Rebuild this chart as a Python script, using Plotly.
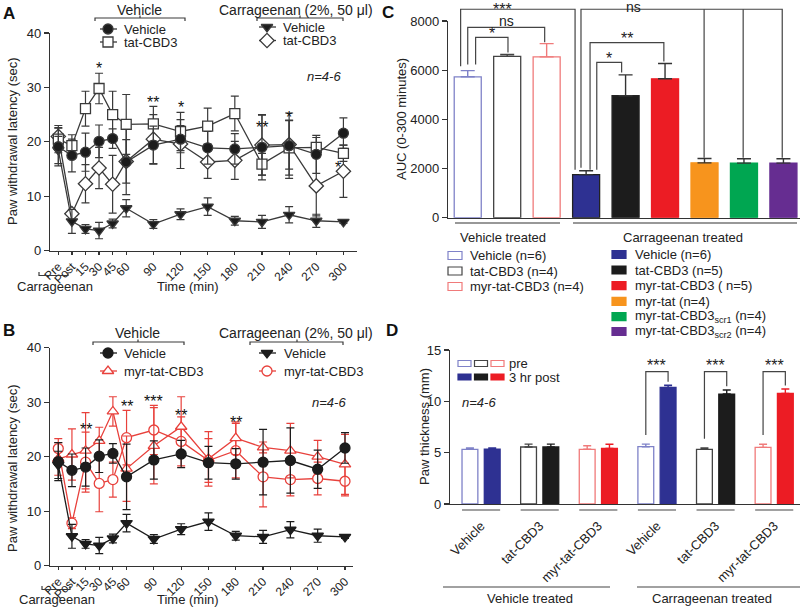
import plotly.graph_objects as go

W, H = 800, 615
FONT = "Arial, Liberation Sans, Helvetica, sans-serif"

# ---------------- data ----------------
time_labels = ["Pre", "Post", "15", "30", "45", "60", "90", "120", "150", "180", "210", "240", "270", "300"]
time_min = [-15, 0, 15, 30, 45, 60, 90, 120, 150, 180, 210, 240, 270, 300]

# vehicle-injected paw, vehicle peptide (filled circle)
veh_vehicle = [19.1, 17.5, 18.1, 20.1, 20.6, 16.3, 19.4, 20.5, 18.9, 18.7, 19.0, 19.3, 17.7, 21.6]
veh_vehicle_err = [3.5, 3.0, 3.5, 3.0, 1.8, 6.0, 3.5, 2.5, 3.0, 2.8, 6.0, 6.0, 3.5, 2.8]
# vehicle-injected paw, tat-CBD3 (open square)
veh_tat = [20.5, 19.3, 26.1, 29.8, 25.0, 23.2, 23.3, 21.9, 22.9, 25.2, 15.9, 18.9, 19.0, 17.9]
veh_tat_err = [2.5, 2.0, 3.2, 2.8, 4.3, 5.5, 3.2, 3.5, 3.3, 3.2, 2.0, 5.0, 1.8, 1.5]
# carrageenan, vehicle (filled down triangle)
car_vehicle = [18.5, 5.4, 4.0, 3.7, 5.0, 7.8, 4.9, 6.7, 8.1, 5.5, 5.3, 6.6, 5.5, 5.3]
car_vehicle_err = [2.5, 2.2, 0.8, 1.5, 0.8, 1.6, 0.8, 1.0, 1.6, 0.8, 1.2, 1.5, 1.2, 0.3]
# carrageenan, tat-CBD3 (open diamond)
car_tat = [21.0, 6.8, 12.3, 15.2, 12.2, 16.4, 20.5, 19.6, 16.3, 16.6, 19.4, 19.5, 11.9, 14.6]
car_tat_err = [1.5, 0.5, 3.5, 3.8, 5.3, 4.0, 4.5, 4.5, 3.0, 3.5, 5.5, 4.5, 5.5, 4.8]
# panel B: myr-tat-CBD3
veh_myr = [19.6, 20.4, 21.1, 22.9, 28.3, 17.8, 22.0, 25.5, 19.6, 23.4, 21.7, 21.1, 20.0, 18.6]
veh_myr_err = [3.0, 4.7, 7.0, 2.5, 2.7, 6.0, 7.0, 5.5, 5.0, 3.0, 1.0, 5.0, 3.0, 5.5]
car_myr = [21.5, 7.8, 19.0, 15.1, 15.8, 23.5, 24.9, 22.8, 19.3, 21.1, 16.3, 15.8, 16.0, 15.5]
car_myr_err = [1.8, 1.0, 5.5, 5.2, 3.2, 5.0, 4.5, 4.5, 4.0, 5.0, 5.5, 3.0, 3.0, 2.7]

sig_A = [(30, 34.0, "*"), (90, 27.8, "**"), (120, 26.8, "*"), (210, 23.1, "**"), (240, 25.1, "*"), (294, 15.8, "*")]
sig_B = [(15, 25.5, "**"), (60, 29.8, "**"), (90, 30.7, "***"), (120, 28.1, "**"), (180, 26.9, "**")]

# panel C: AUC
auc_names_vehicle = ["Vehicle (n=6)", "tat-CBD3 (n=4)", "myr-tat-CBD3 (n=4)"]
auc_vehicle = [5730, 6560, 6540]
auc_vehicle_err = [250, 80, 540]
auc_names_carr = ["Vehicle (n=6)", "tat-CBD3 (n=5)", "myr-tat-CBD3 ( n=5)", "myr-tat (n=4)",
                  "myr-tat-CBD3<sub>scr1</sub> (n=4)", "myr-tat-CBD3<sub>scr2</sub> (n=4)"]
auc_carr = [1750, 4960, 5650, 2230, 2220, 2220]
auc_carr_err = [160, 850, 620, 175, 180, 180]

# panel D: paw thickness
thick_labels = ["Vehicle", "tat-CBD3", "myr-tat-CBD3", "Vehicle", "tat-CBD3", "myr-tat-CBD3"]
thick_pre = [5.33, 5.55, 5.33, 5.58, 5.33, 5.52]
thick_pre_err = [0.12, 0.28, 0.35, 0.25, 0.12, 0.3]
thick_post = [5.35, 5.55, 5.42, 11.36, 10.71, 10.78]
thick_post_err = [0.1, 0.28, 0.4, 0.2, 0.4, 0.42]

# ---------------- colours ----------------
GREY = "#3a3a3a"
BLACK = "#1c1c1c"
RED = "#e8413c"
fill_cols = ["#2e3192", "#1c1c1c", "#ec1c24", "#f7941d", "#00a651", "#662d91"]
open_cols = ["#7f82c8", "#444444", "#f07a7a"]

# ---------------- geometry ----------------
geom = {
    "A": dict(l=50, r=357, t=33, b=250.7, xr=[-24.2, 315], yr=[0, 40]),
    "B": dict(l=50, r=353, t=347.7, b=565.7, xr=[-24.1, 308.8], yr=[0, 40]),
    "C": dict(l=448, r=800, t=21, b=217.7, xr=[-0.5, 8.42], yr=[0, 8000]),
    "D": dict(l=450, r=800, t=350, b=504, xr=[-0.53, 5.44], yr=[0, 15]),
}


def xdom(k):
    g = geom[k]
    return [g["l"] / W, g["r"] / W]


def ydom(k):
    g = geom[k]
    return [1 - g["b"] / H, 1 - g["t"] / H]


def to_px(k, xv, yv):
    g = geom[k]
    x0, x1 = g["xr"]
    y0, y1 = g["yr"]
    px = g["l"] + (xv - x0) / (x1 - x0) * (g["r"] - g["l"])
    py = g["b"] - (yv - y0) / (y1 - y0) * (g["b"] - g["t"])
    return px, py


shapes = []
annotations = []


def seg(x0, y0, x1, y1, color="#333", w=1.2):
    shapes.append(dict(type="line", xref="x5", yref="y5", x0=x0, y0=y0, x1=x1, y1=y1,
                       line=dict(color=color, width=w)))


def pth(d, color="#333", w=1.2):
    shapes.append(dict(type="path", xref="x5", yref="y5", path=d, line=dict(color=color, width=w)))


def rect(x0, y0, x1, y1, line_col, fill):
    shapes.append(dict(type="rect", xref="x5", yref="y5", x0=x0, y0=y0, x1=x1, y1=y1,
                       line=dict(color=line_col, width=1.2), fillcolor=fill))


def txt(x, y, s, size=13, xanchor="center", yanchor="middle", color="#222", angle=0, bold=False):
    if bold:
        s = "<b>" + s + "</b>"
    annotations.append(dict(xref="x5", yref="y5", x=x, y=y, text=s, showarrow=False,
                            xanchor=xanchor, yanchor=yanchor, textangle=angle,
                            font=dict(size=size, color=color, family=FONT)))


fig = go.Figure()


def series(x, y, err, symbol, color, fill, xa, ya, size=10):
    return go.Scatter(x=x, y=y, mode="lines+markers", xaxis=xa, yaxis=ya,
                      error_y=dict(type="data", array=err, color=color, thickness=1.2, width=4),
                      line=dict(color=color, width=1.3),
                      marker=dict(symbol=symbol, size=size, color=fill, line=dict(color=color, width=1.3)),
                      hoverinfo="skip", showlegend=False)


# Panel A
fig.add_trace(series(time_min, car_tat, car_tat_err, "diamond", GREY, "white", "x", "y", 11))
fig.add_trace(series(time_min, veh_tat, veh_tat_err, "square", GREY, "white", "x", "y", 10))
fig.add_trace(series(time_min, car_vehicle, car_vehicle_err, "triangle-down", GREY, BLACK, "x", "y", 10))
fig.add_trace(series(time_min, veh_vehicle, veh_vehicle_err, "circle", GREY, BLACK, "x", "y", 10))
# Panel B
fig.add_trace(series(time_min, car_myr, car_myr_err, "circle", RED, "white", "x2", "y2", 10))
fig.add_trace(series(time_min, veh_myr, veh_myr_err, "triangle-up", RED, "white", "x2", "y2", 10))
fig.add_trace(series(time_min, car_vehicle, car_vehicle_err, "triangle-down", BLACK, BLACK, "x2", "y2", 10))
fig.add_trace(series(time_min, veh_vehicle, veh_vehicle_err, "circle", BLACK, BLACK, "x2", "y2", 10))

# Panel C bars
auc_vals = auc_vehicle + auc_carr
auc_errs = auc_vehicle_err + auc_carr_err
n_veh = len(auc_vehicle)
for i, (v, e) in enumerate(zip(auc_vals, auc_errs)):
    if i < n_veh:
        fc, lc = "white", open_cols[i]
    else:
        fc, lc = fill_cols[i - n_veh], "#222" if i - n_veh in (0, 1) else fill_cols[i - n_veh]
    fig.add_trace(go.Bar(x=[i], y=[v], width=0.685, xaxis="x3", yaxis="y3",
                         marker=dict(color=fc, line=dict(color=lc, width=1.3)),
                         error_y=dict(type="data", symmetric=False, array=[e], arrayminus=[0],
                                      color=lc if i < n_veh else "#333", thickness=1.4, width=7),
                         hoverinfo="skip", showlegend=False))

# Panel D bars
BW, OFF = 0.27, 0.19
for i in range(len(thick_labels)):
    c = i % 3
    fig.add_trace(go.Bar(x=[i], y=[thick_pre[i]], width=BW, offset=-OFF - BW / 2, xaxis="x4", yaxis="y4",
                         marker=dict(color="white", line=dict(color=open_cols[c], width=1.3)),
                         error_y=dict(type="data", symmetric=False, array=[thick_pre_err[i]], arrayminus=[0],
                                      color=open_cols[c], thickness=1.4, width=4),
                         hoverinfo="skip", showlegend=False))
    fig.add_trace(go.Bar(x=[i], y=[thick_post[i]], width=BW, offset=OFF - BW / 2, xaxis="x4", yaxis="y4",
                         marker=dict(color=fill_cols[c], line=dict(color=fill_cols[c], width=1.3)),
                         error_y=dict(type="data", symmetric=False, array=[thick_post_err[i]], arrayminus=[0],
                                      color=fill_cols[c], thickness=1.4, width=4),
                         hoverinfo="skip", showlegend=False))


# ---------------- legend glyphs (overlay pixel axis) ----------------
def glyph(x, y, symbol, color, fill, size=10):
    fig.add_trace(go.Scatter(x=[x - 8, x, x + 9], y=[y, y, y], mode="lines+markers", xaxis="x5", yaxis="y5",
                             line=dict(color=color, width=1.3),
                             marker=dict(symbol=symbol, size=size, color=fill, opacity=[0, 1, 0],
                                         line=dict(color=color, width=1.3)),
                             hoverinfo="skip", showlegend=False))


# Panel A legend
txt(139, 10, "Vehicle", 14)
pth("M95,21 L95,18 L185,18 L185,21 M140,18 L140,15.5", GREY)
txt(296, 10, "Carrageenan (2%, 50 μl)", 14)
pth("M257,21 L257,18 L343,18 L343,21 M300,18 L300,15.5", GREY)
glyph(108, 29, "circle", GREY, BLACK)
txt(122, 29, "Vehicle", 13, "left")
glyph(108, 42, "square", GREY, "white")
txt(122, 42, "tat-CBD3", 13, "left")
glyph(267, 27, "triangle-down", GREY, BLACK)
txt(281, 27, "Vehicle", 13, "left")
glyph(267, 40.5, "diamond", GREY, "white", 11)
txt(281, 40.5, "tat-CBD3", 13, "left")
txt(343, 76, "<i>n=4-6</i>", 13, "right")
txt(12, 141, "Paw withdrawal latency (sec)", 13, angle=-90)
txt(188, 286, "Time (min)", 13)
txt(55, 286, "Carrageenan", 13)
pth("M39,272 L39,275.5 L68,275.5 L68,272", GREY)
txt(9, 13, "A", 17, bold=True, color="#111")

# Panel B legend
txt(137, 333, "Vehicle", 14)
pth("M93,345 L93,342 L184,342 L184,345 M138,342 L138,339.5", GREY)
txt(296, 333, "Carrageenan (2%, 50 μl)", 14)
pth("M250,345 L250,342 L343,342 L343,345 M297,342 L297,339.5", GREY)
glyph(108, 353, "circle", BLACK, BLACK)
txt(122, 353, "Vehicle", 13, "left")
glyph(108, 371, "triangle-up", RED, "white")
txt(122, 371, "myr-tat-CBD3", 13, "left")
glyph(267, 353, "triangle-down", BLACK, BLACK)
txt(282, 353, "Vehicle", 13, "left")
glyph(267, 371, "circle", RED, "white")
txt(282, 371, "myr-tat-CBD3", 13, "left")
txt(348, 402, "<i>n=4-6</i>", 13, "right")
txt(12, 468, "Paw withdrawal latency (sec)", 13, angle=-90)
txt(188, 599, "Time (min)", 13)
txt(57, 599, "Carrageenan", 13)
pth("M42,586 L42,589.5 L70,589.5 L70,586", GREY)
txt(9, 330, "B", 17, bold=True, color="#111")

# significance stars A/B
for t, v, s in sig_A:
    px, py = to_px("A", t, v)
    txt(px, py + 3, s, 16, color="#111")
for t, v, s in sig_B:
    px, py = to_px("B", t, v)
    txt(px, py + 3, s, 16, color="#111")

# ---------------- Panel C annotations ----------------
txt(388, 12, "C", 17, bold=True, color="#111")
txt(401, 119, "AUC (0-300 minutes)", 13, angle=-90)
c_brackets = [
    # x_left, y_left_end, x_right, y_right_end, level, label, label x, extra verticals
    (-0.18, 6160, 2.72, 1947, 8478, "***", 0.87, []),
    (2.87, 2029, 7.97, 2437, 8478, "ns", 4.19, [5.99, 6.98]),
    (0.0, 6233, 1.95, 7131, 7743, "ns", None, []),
    (0.2, 6233, 1.02, 6722, 7335, "*", None, []),
    (3.1, 1947, 4.97, 6355, 7118, "**", None, []),
    (3.27, 1947, 3.9, 5906, 6314, "*", None, []),
]
for xl, yl, xr_, yr_, lev, lab, lx, extra in c_brackets:
    x0, y0 = to_px("C", xl, yl)
    x1, y1 = to_px("C", xr_, yr_)
    _, yl_px = to_px("C", 0, lev)
    pth(f"M{x0},{y0} L{x0},{yl_px} L{x1},{yl_px} L{x1},{y1}", "#444")
    for xe in extra:
        xe_px, _ = to_px("C", xe, 0)
        seg(xe_px, yl_px, xe_px, y1, "#444")
    lx_px = (x0 + x1) / 2 if lx is None else to_px("C", lx, 0)[0]
    if lab == "ns":
        txt(lx_px, max(yl_px - 6, 7), "ns", 14)
    else:
        txt(lx_px, max(yl_px - 4, 9), lab, 16)

seg(455, 223, 560, 223, "#333")
seg(573, 223, 797, 223, "#333")
txt(503, 237, "Vehicle treated", 13)
txt(683, 237, "Carrageenan treated", 13)
rows_left = [255.5, 271, 286.5]
for i, name in enumerate(auc_names_vehicle):
    rect(448, rows_left[i] - 4, 462, rows_left[i] + 4, open_cols[i], "white")
    txt(468, rows_left[i], name, 13, "left")
rows_right = [254.5, 270, 285.7, 301.3, 316.7, 331.5]
for i, name in enumerate(auc_names_carr):
    rect(612, rows_right[i] - 4, 626, rows_right[i] + 4, fill_cols[i], fill_cols[i])
    txt(633, rows_right[i], name, 13, "left")

# ---------------- Panel D annotations ----------------
txt(392, 330, "D", 17, bold=True, color="#111")
txt(424, 427, "Paw thickness (mm)", 13, angle=-90)
for k, c in enumerate(open_cols):
    rect(458 + k * 16.5, 360.5, 471 + k * 16.5, 366.5, c, "white")
    rect(458 + k * 16.5, 374, 471 + k * 16.5, 380, fill_cols[k], fill_cols[k])
txt(507, 363.5, "pre", 13, "left")
txt(507, 377, "3 hr post", 13, "left")
txt(460, 402, "<i>n=4-6</i>", 13, "left")
for i in range(len(thick_labels)):
    xl, _ = to_px("D", i - OFF - BW / 2, 0)
    xr_, _ = to_px("D", i + OFF + BW / 2, 0)
    seg(xl, 510, xr_, 510, "#444")
seg(443, 587, 610, 587, "#444")
seg(637, 587, 800, 587, "#444")
txt(530, 598, "Vehicle treated", 13)
txt(712, 598, "Carrageenan treated", 13)
for i in range(3, len(thick_labels)):
    xl, ylb = to_px("D", i - OFF, thick_pre[i] + thick_pre_err[i] + 0.9)
    xr_, yrb = to_px("D", i + OFF, thick_post[i] + thick_post_err[i] + 0.35)
    _, lev = to_px("D", 0, 12.9)
    pth(f"M{xl},{ylb} L{xl},{lev} L{xr_},{lev} L{xr_},{yrb}", "#444")
    txt((xl + xr_) / 2, lev - 6, "***", 16)

# ---------------- layout ----------------
ax = dict(showline=True, linecolor="#333", linewidth=1.2, ticks="outside", ticklen=5, tickwidth=1.2,
          tickcolor="#333", showgrid=False, zeroline=False, fixedrange=True, automargin=False,
          tickfont=dict(size=13, color="#222", family=FONT))
tfont_small = dict(size=12, color="#222", family=FONT)

fig.update_layout(
    width=W, height=H, margin=dict(l=0, r=0, t=0, b=0, pad=0, autoexpand=False),
    paper_bgcolor="white", plot_bgcolor="rgba(0,0,0,0)",
    showlegend=False, barmode="overlay", font=dict(family=FONT, color="#222"),
    xaxis=dict(ax, domain=xdom("A"), range=geom["A"]["xr"], anchor="y", tickvals=time_min,
               ticktext=time_labels, tickangle=-45, ticklen=3, tickfont=tfont_small),
    yaxis=dict(ax, domain=ydom("A"), range=geom["A"]["yr"], anchor="x", dtick=10),
    xaxis2=dict(ax, domain=xdom("B"), range=geom["B"]["xr"], anchor="y2", tickvals=time_min,
                ticktext=time_labels, tickangle=-45, ticklen=3, tickfont=tfont_small),
    yaxis2=dict(ax, domain=ydom("B"), range=geom["B"]["yr"], anchor="x2", dtick=10),
    xaxis3=dict(ax, domain=xdom("C"), range=geom["C"]["xr"], anchor="y3", ticks="", showticklabels=False),
    yaxis3=dict(ax, domain=ydom("C"), range=geom["C"]["yr"], anchor="x3", dtick=2000),
    xaxis4=dict(ax, domain=xdom("D"), range=geom["D"]["xr"], anchor="y4", ticks="",
                tickvals=list(range(len(thick_labels))), ticktext=thick_labels, tickangle=-45,
                ticklabelstandoff=8),
    yaxis4=dict(ax, domain=ydom("D"), range=geom["D"]["yr"], anchor="x4", dtick=5),
    xaxis5=dict(domain=[0, 1], range=[0, W], anchor="y5", visible=False, fixedrange=True, automargin=False),
    yaxis5=dict(domain=[0, 1], range=[H, 0], anchor="x5", visible=False, fixedrange=True, automargin=False),
    shapes=shapes, annotations=annotations,
)

fig.write_html("out.html", config={"displayModeBar": False, "staticPlot": True},
               post_script="document.body.style.margin='0';document.body.style.overflow='hidden';")
